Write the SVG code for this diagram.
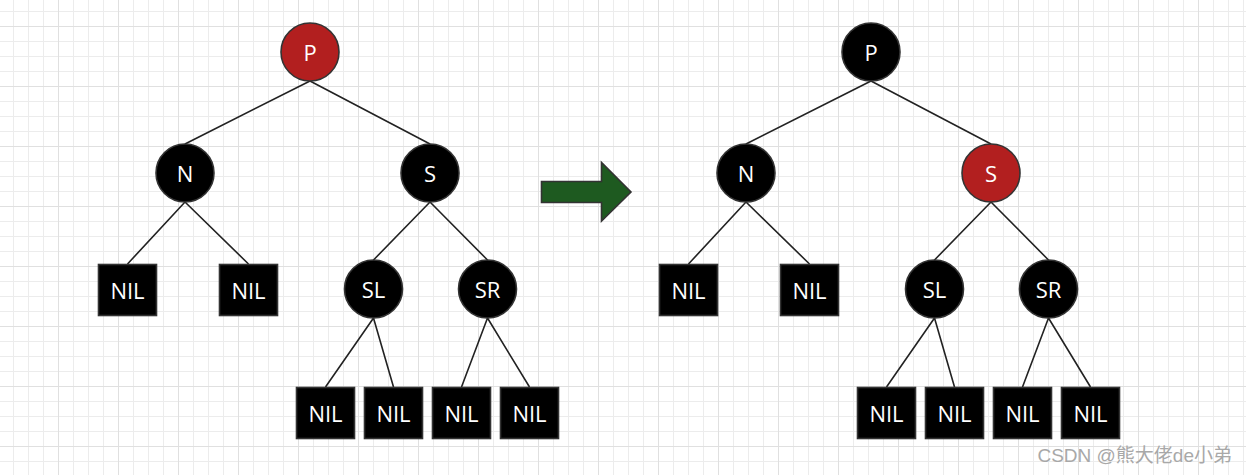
<svg xmlns="http://www.w3.org/2000/svg" width="1246" height="475" viewBox="0 0 1246 475">
<defs>
<pattern id="gmin" x="13" y="11" width="15" height="15" patternUnits="userSpaceOnUse">
<path d="M0.5 0V15M0 0.5H15" stroke="#ececec" stroke-width="1" fill="none"/>
</pattern>
<pattern id="gmaj" x="58" y="26" width="60" height="60" patternUnits="userSpaceOnUse">
<path d="M0.5 0V60M0 0.5H60" stroke="#e0e0e0" stroke-width="1" fill="none"/>
</pattern>
<style>
.c{stroke:#333;stroke-width:1.6}
.b{fill:#000}
.r{fill:#b21f1f}
.box{fill:#000;stroke:#333;stroke-width:1.6}
.t{fill:#fff;font-family:"Open Sans","Noto Sans",sans-serif;font-size:22px;text-anchor:middle;dominant-baseline:central}
.e{stroke:#222;stroke-width:1.6;fill:none}
</style>
</defs>
<rect width="1246" height="475" fill="#fff"/>
<rect width="1246" height="475" fill="url(#gmin)"/>
<rect width="1246" height="475" fill="url(#gmaj)"/>

<g id="connectors">
<path class="e" d="M310 81L185 144M310 81L430 144M185 202L127.5 264M185 202L248.5 264M430 202L373.5 260M430 202L487.5 260M373.5 318L325.5 387M373.5 318L393.5 387M487.5 318L461.5 387M487.5 318L529.5 387"/>
<path class="e" d="M871 81L746 144M871 81L991 144M746 202L688.5 264M746 202L809.5 264M991 202L934.5 260M991 202L1048.5 260M934.5 318L886.5 387M934.5 318L954.5 387M1048.5 318L1022.5 387M1048.5 318L1090.5 387"/>
</g>

<g id="L-P"><circle class="c r" cx="310" cy="52" r="29"/><text class="t" x="310" y="52">P</text></g>
<g id="L-N"><circle class="c b" cx="185" cy="173" r="29"/><text class="t" x="185" y="173">N</text></g>
<g id="L-S"><circle class="c b" cx="430" cy="173" r="29"/><text class="t" x="430" y="173">S</text></g>
<g id="L-SL"><circle class="c b" cx="373.5" cy="289" r="29"/><text class="t" x="373.5" y="289">SL</text></g>
<g id="L-SR"><circle class="c b" cx="487.5" cy="289" r="29"/><text class="t" x="487.5" y="289">SR</text></g>
<g id="L-NIL1"><rect class="box" x="98.5" y="264.5" width="58" height="51"/><text class="t" x="127.5" y="290">NIL</text></g>
<g id="L-NIL2"><rect class="box" x="219.5" y="264.5" width="58" height="51"/><text class="t" x="248.5" y="290">NIL</text></g>
<g id="L-NIL3"><rect class="box" x="296.5" y="387.5" width="58" height="51"/><text class="t" x="325.5" y="413">NIL</text></g>
<g id="L-NIL4"><rect class="box" x="364.5" y="387.5" width="58" height="51"/><text class="t" x="393.5" y="413">NIL</text></g>
<g id="L-NIL5"><rect class="box" x="432.5" y="387.5" width="58" height="51"/><text class="t" x="461.5" y="413">NIL</text></g>
<g id="L-NIL6"><rect class="box" x="500.5" y="387.5" width="58" height="51"/><text class="t" x="529.5" y="413">NIL</text></g>

<g id="arrow"><polygon points="541.5,181.5 601.5,181.5 601.5,162.5 631,192 601.5,221 601.5,202.5 541.5,202.5" fill="#1e5a20" stroke="#333" stroke-width="1.6"/></g>

<g id="R-P"><circle class="c b" cx="871" cy="52" r="29"/><text class="t" x="871" y="52">P</text></g>
<g id="R-N"><circle class="c b" cx="746" cy="173" r="29"/><text class="t" x="746" y="173">N</text></g>
<g id="R-S"><circle class="c r" cx="991" cy="173" r="29"/><text class="t" x="991" y="173">S</text></g>
<g id="R-SL"><circle class="c b" cx="934.5" cy="289" r="29"/><text class="t" x="934.5" y="289">SL</text></g>
<g id="R-SR"><circle class="c b" cx="1048.5" cy="289" r="29"/><text class="t" x="1048.5" y="289">SR</text></g>
<g id="R-NIL1"><rect class="box" x="659.5" y="264.5" width="58" height="51"/><text class="t" x="688.5" y="290">NIL</text></g>
<g id="R-NIL2"><rect class="box" x="780.5" y="264.5" width="58" height="51"/><text class="t" x="809.5" y="290">NIL</text></g>
<g id="R-NIL3"><rect class="box" x="857.5" y="387.5" width="58" height="51"/><text class="t" x="886.5" y="413">NIL</text></g>
<g id="R-NIL4"><rect class="box" x="925.5" y="387.5" width="58" height="51"/><text class="t" x="954.5" y="413">NIL</text></g>
<g id="R-NIL5"><rect class="box" x="993.5" y="387.5" width="58" height="51"/><text class="t" x="1022.5" y="413">NIL</text></g>
<g id="R-NIL6"><rect class="box" x="1061.5" y="387.5" width="58" height="51"/><text class="t" x="1090.5" y="413">NIL</text></g>

<text x="1232" y="462" text-anchor="end" font-family="'Liberation Sans','Noto Sans CJK SC',sans-serif" font-size="19" fill="#a8a8a8">CSDN @熊大佬de小弟</text>
</svg>
